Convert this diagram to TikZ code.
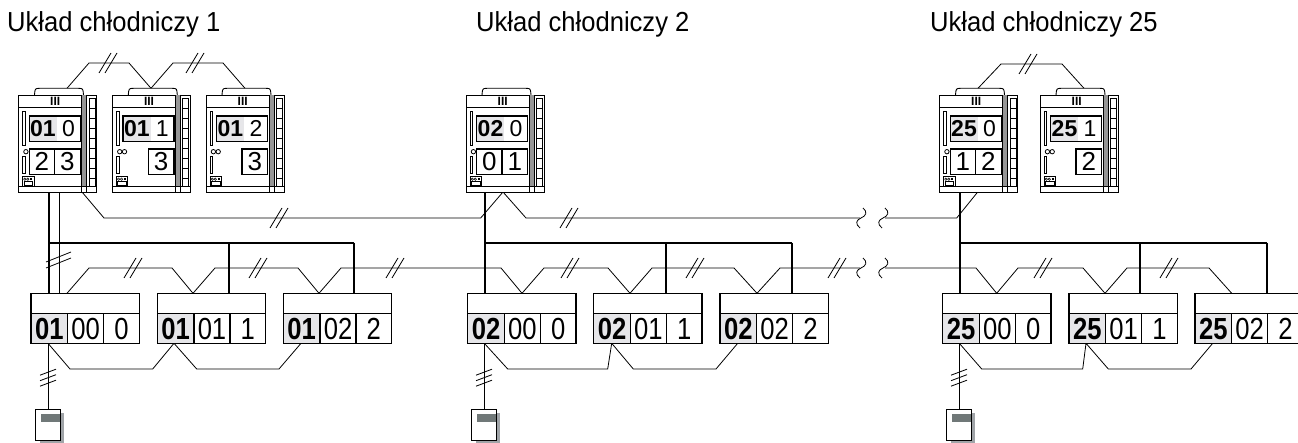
\documentclass[tikz,border=0pt]{standalone}
\usepackage{fontspec}
\setmainfont{Liberation Sans}
\newfontfamily\narrowsans[FakeStretch=0.84]{Liberation Sans}
\newfontfamily\titlesans[FakeStretch=0.93]{Liberation Sans}
\definecolor{cellgray}{RGB}{230,230,233}
\definecolor{shadowgray}{RGB}{160,164,168}
\definecolor{bargray}{RGB}{112,120,120}
\definecolor{stripgray}{RGB}{150,150,150}
\tikzset{
 thinw/.style={line width=0.8pt},
 thickw/.style={line width=1.7pt},
 boxl/.style={line width=1.1pt},
 unitl/.style={line width=0.9pt},
 titletext/.style={font=\titlesans\fontsize{27.5}{27.5}\selectfont, anchor=base west, inner sep=0},
 idutext/.style={font=\narrowsans\fontsize{30.5}{30.5}\selectfont, anchor=base, inner sep=0},
 odutext/.style={font=\fontsize{23}{23}\selectfont, anchor=base, inner sep=0},
 odulow/.style={font=\fontsize{26}{26}\selectfont, anchor=base, inner sep=0},
}
% double slash mark
\newcommand\dsl[2]{\draw[thinw] (#1-9,#2+10)--(#1+3,#2-10) (#1-3,#2+10)--(#1+9,#2-10);}
% triple slash mark on a vertical line
\newcommand\tsl[2]{\draw[thinw] (#1-8,#2-2.5)--(#1+8,#2-8.5) (#1-8,#2+3)--(#1+8,#2-3) (#1-8,#2+8.5)--(#1+8,#2+2.5);}
% break squiggle
\newcommand\brk[2]{\draw[thinw] (#1+2,#2-10) .. controls (#1+7,#2-6) and (#1+5,#2-2) .. (#1,#2) .. controls (#1-5,#2+2) and (#1-6,#2+6) .. (#1-1,#2+10);}
% outdoor unit: name, x0, bold, num, lower-left (may be empty), lower-right, circles(1/2)
\newcommand\odu[7]{%
\begin{scope}[shift={(#2,0)}]
 \draw[unitl,fill=white] (16,95) .. controls (16.5,88.5) .. (21,88.3) -- (60,88.3) .. controls (64.5,88.5) .. (65,95);
 \draw[unitl,fill=white] (0,95) rectangle (78.4,192);
 \fill[stripgray] (63.4,95) rectangle (68.4,187);
 \draw[unitl] (63.4,95) -- (63.4,192) (68.4,95)--(68.4,192);
 \draw[thinw] (70.5,98) rectangle (76.5,186);
 \foreach \yy in {108,118,...,178} \draw[line width=0.6pt] (70.5,\yy)--(76.5,\yy);
 \draw[unitl] (0,107.3)--(63.4,107.3);
 \node[font=\bfseries\fontsize{12}{12}\selectfont, inner sep=0] (#1-iii) at (36.7,101.8) {III};
 \draw[thinw] (4,111.7) rectangle (6.7,145);
 \fill[cellgray] (10.7,116) rectangle (38.4,141.7);
 \draw[boxl] (10.7,116) rectangle (61.7,141.7);
 \node[odutext] (#1-a) at (24.5,137) {\bfseries #3};
 \node[odutext] (#1-b) at (50,137) {#4};
 \ifx\relax#5\relax
  \draw[boxl] (36,149) rectangle (61.7,174.3);
 \else
  \draw[boxl] (10.7,149) rectangle (61.7,174.3) (36,149)--(36,174.3);
  \node[odulow] (#1-c) at (23.35,171) {#5};
 \fi
 \node[odulow] (#1-d) at (48.85,171) {#6};
 \draw[thinw] (7.4,151.7) circle (2.2);
 \ifnum#7=2 \draw[thinw] (12.2,151.7) circle (2.2);\fi
 \draw[thinw] (4,156) rectangle (6.7,173.3);
 \draw[thinw] (4,176.7) rectangle (15.5,186.7);
 \draw[line width=0.5pt] (6.3,179.2) circle (1.2) (9.3,179.2) circle (1.2);
 \fill (11.7,178.3) rectangle (13.6,180.2);
 \draw[line width=0.6pt] (5.3,181.5) rectangle (14.2,185.5);
 \draw[unitl] (0,186.7)--(78.4,186.7);
\end{scope}}
% indoor unit: name, x0, bold, mid, right
\newcommand\idu[5]{%
\begin{scope}[shift={(#2,0)}]
 \fill[white] (0,293.3) rectangle (108.3,343.3);
 \fill[cellgray] (0,313.3) rectangle (36.7,343.3);
 \draw[boxl] (0,293.3) rectangle (108.3,343.3) (0,313.3)--(108.3,313.3) (36.7,313.3)--(36.7,343.3) (72.7,313.3)--(72.7,343.3);
 \node[idutext] (#1-a) at (18.35,339.8) {\bfseries #3};
 \node[idutext] (#1-b) at (54.7,339.8) {#4};
 \node[idutext] (#1-c) at (90.5,339.8) {#5};
\end{scope}}
% remote controller
\newcommand\rcu[1]{%
 \fill[shadowgray] (#1-8,413.3) rectangle (#1+16,443.5);
 \draw[thinw,fill=white] (#1-13,409.3) rectangle (#1+12,440.7);
 \fill[bargray] (#1-7,414) rectangle (#1+12,421.7);}
\begin{document}
\begin{tikzpicture}[x=1pt,y=-1pt]
\useasboundingbox (0,0) rectangle (1298,443);
\clip (0,0) rectangle (1298,443);
\fill[white] (0,0) rectangle (1298,443);
% titles
\node[titletext] (t1) at (7,32) {Układ chłodniczy 1};
\node[titletext] (t2) at (476,32) {Układ chłodniczy 2};
\node[titletext] (t3) at (930,32) {Układ chłodniczy 25};
% named attachment points
\coordinate (o11c) at (67,88.3); \coordinate (o12c) at (151,88.3); \coordinate (o13c) at (245,88.3);
\coordinate (o31c) at (978,88.3); \coordinate (o32c) at (1084,88.3);
% top wires between outdoor units
\draw[thinw] (o11c) -- (89,63) -- (129,63) -- (o12c) -- (173,63) -- (223,63) -- (o13c);
\draw[thinw] (o31c) -- (1001,64) -- (1062,64) -- (o32c);
\dsl{108}{63} \dsl{195}{63} \dsl{1028}{64}
% outdoor-outdoor transmission line
\coordinate (o11r) at (82,192); \coordinate (o21r) at (503,192); \coordinate (o31r) at (977.7,192);
\draw[thinw] (o11r) -- (104,218) -- (480.7,218) -- (o21r) -- (526,218) -- (860,218);
\draw[thinw] (885,218) -- (956.7,218) -- (o31r);
\brk{861}{218} \brk{883}{218}
\dsl{279}{218} \dsl{569}{218}
% refrigerant piping
\draw[thickw] (49,192) -- (49,293.3);
\draw[thinw] (59,192) -- (59,293.3);
\draw[thinw] (46,268)--(71,258) (46,262)--(71,252);
\draw[thickw] (49,242.7) -- (354,242.7) (229,242.7) -- (229,293.3) (354,242.7) -- (354,293.3);
\draw[thickw] (485,192) -- (485,293.3);
\draw[thickw] (485,242.7) -- (792,242.7) (666,242.7) -- (666,293.3) (792,242.7) -- (792,293.3);
\draw[thickw] (960,192) -- (960,293.3);
\draw[thickw] (960,242.7) -- (1266.7,242.7) (1140,242.7) -- (1140,293.3) (1266.7,242.7) -- (1266.7,293.3);
% indoor transmission line
\draw[thinw] (67,293.3)--(89,268)--(172,268)--(193,293.3)--(215,268)--(298,268)--(319,293.3)--(341,268)--(501,268)--(522,293.3)--(544,268)--(608,268)--(630,293.3)--(652,268)--(734,268)--(757,293.3)--(780,268)--(860,268);
\draw[thinw] (885,268)--(976,268)--(996.7,293.3)--(1018,268)--(1083,268)--(1105,293.3)--(1127,268)--(1209,268)--(1231.7,293.3);
\brk{861}{268} \brk{883}{268}
\foreach \xx in {133,258,395,570,695,837,1043,1169} {\dsl{\xx}{268}}
% lower wiring between indoor units
\draw[thinw] (48,343.3)--(70,369)--(152.7,369)--(174,343.3)--(196.7,369)--(279,369)--(301,343.3);
\draw[thinw] (484.3,343.3)--(507.7,369)--(607.7,369)--(611.7,343.3)--(633.3,369)--(716,369)--(737.7,343.3);
\draw[thinw] (959.3,343.3)--(981.7,369)--(1082.7,369)--(1086,343.3)--(1108.3,369)--(1191,369)--(1212.7,343.3);
% remote controller lines
\draw[thinw] (48,343.3)--(48,409.3); \tsl{48}{377.7}
\draw[thinw] (484,343.3)--(484,409.3); \tsl{484}{377.7}
\draw[thinw] (959,343.3)--(959,409.3); \tsl{959}{377.7}
\rcu{48} \rcu{484} \rcu{959}
% outdoor units
\odu{o11}{18.5}{01}{0}{2}{3}{1}
\odu{o12}{112.3}{01}{1}{}{3}{2}
\odu{o13}{206}{01}{2}{}{3}{2}
\odu{o21}{466}{02}{0}{0}{1}{1}
\odu{o31}{939.5}{25}{0}{1}{2}{1}
\odu{o32}{1040}{25}{1}{}{2}{2}
% indoor units
\idu{i11}{31}{01}{00}{0}
\idu{i12}{157.3}{01}{01}{1}
\idu{i13}{283.3}{01}{02}{2}
\idu{i21}{467.7}{02}{00}{0}
\idu{i22}{593.7}{02}{01}{1}
\idu{i23}{720}{02}{02}{2}
\idu{i31}{942.7}{25}{00}{0}
\idu{i32}{1069}{25}{01}{1}
\idu{i33}{1195}{25}{02}{2}
\end{tikzpicture}
\end{document}
